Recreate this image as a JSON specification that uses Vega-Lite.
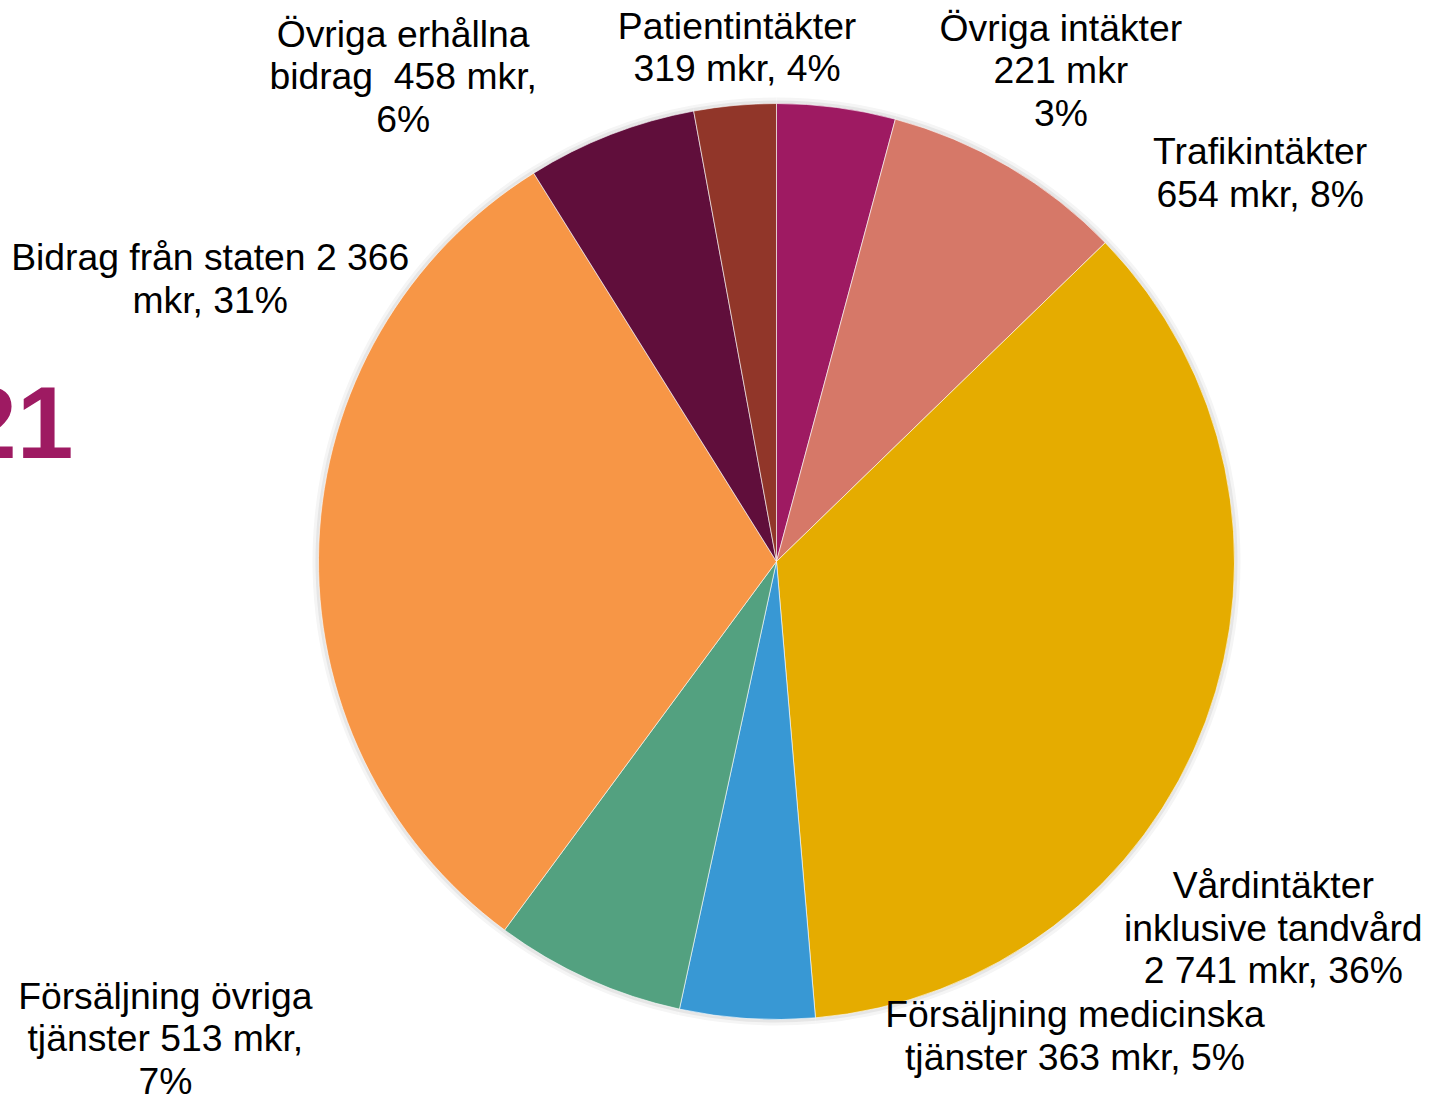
{
  "$schema": "https://vega.github.io/schema/vega-lite/v6.json",
  "width": 1305,
  "height": 1071,
  "padding": {"left": 124, "top": 26, "right": 0, "bottom": 0},
  "autosize": {"type": "none"},
  "background": "#ffffff",
  "config": {"view": {"stroke": null}},
  "title": {
    "text": "21",
    "anchor": "start",
    "frame": "group",
    "orient": "top",
    "baseline": "alphabetic",
    "offset": 0,
    "dx": -164,
    "dy": 551,
    "fontSize": 102,
    "fontWeight": "bold",
    "color": "#9E1A62",
    "font": "Liberation Sans"
  },
  "data": {
    "values": [
      {"nr": 1, "kategori": "Patientintäkter", "mkr": 319, "etikett": ["Patientintäkter", "319 mkr, 4%"]},
      {"nr": 2, "kategori": "Trafikintäkter", "mkr": 654, "etikett": ["Trafikintäkter", "654 mkr, 8%"]},
      {"nr": 3, "kategori": "Vårdintäkter inklusive tandvård", "mkr": 2741, "etikett": ["Vårdintäkter", "inklusive tandvård", "2 741 mkr, 36%"]},
      {"nr": 4, "kategori": "Försäljning medicinska tjänster", "mkr": 363, "etikett": ["Försäljning medicinska", "tjänster 363 mkr, 5%"]},
      {"nr": 5, "kategori": "Försäljning övriga tjänster", "mkr": 513, "etikett": ["Försäljning övriga", "tjänster 513 mkr,", "7%"]},
      {"nr": 6, "kategori": "Bidrag från staten", "mkr": 2366, "etikett": ["Bidrag från staten 2 366", "mkr, 31%"]},
      {"nr": 7, "kategori": "Övriga erhållna bidrag", "mkr": 458, "etikett": ["Övriga erhållna", "bidrag\u00a0 458 mkr,", "6%"]},
      {"nr": 8, "kategori": "Övriga intäkter", "mkr": 221, "etikett": ["Övriga intäkter", "221 mkr", "3%"]}
    ]
  },
  "encoding": {
    "theta": {"field": "mkr", "type": "quantitative", "stack": true},
    "order": {"field": "nr", "type": "quantitative"}
  },
  "layer": [
    {
      "mark": {"type": "arc", "outerRadius": 464, "fill": "#f5f5f5", "strokeWidth": 0}
    },
    {
      "mark": {"type": "arc", "outerRadius": 461, "fill": "#e6e6e6", "strokeWidth": 0}
    },
    {
      "mark": {"type": "arc", "outerRadius": 458, "stroke": "#ffffff", "strokeWidth": 1, "strokeOpacity": 0.6},
      "encoding": {
        "color": {
          "field": "kategori",
          "type": "nominal",
          "legend": null,
          "scale": {
            "domain": ["Patientintäkter", "Trafikintäkter", "Vårdintäkter inklusive tandvård", "Försäljning medicinska tjänster", "Försäljning övriga tjänster", "Bidrag från staten", "Övriga erhållna bidrag", "Övriga intäkter"],
            "range": ["#9E1A62", "#D67868", "#E5AC00", "#3898D4", "#53A180", "#F79646", "#600E3B", "#913629"]
          }
        }
      }
    },
    {
      "mark": {
        "type": "text",
        "font": "Liberation Sans",
        "fontSize": 37.3,
        "lineHeight": 42.5,
        "align": "center",
        "baseline": "middle",
        "fill": "#000000",
        "radius": {"expr": "datum.nr === 1 ? 535 : datum.nr === 2 ? 633 : datum.nr === 3 ? 594 : datum.nr === 4 ? 544 : datum.nr === 5 ? 751 : datum.nr === 6 ? 642 : datum.nr === 7 ? 645 : 603"},
        "thetaOffset": {"expr": "datum.nr === 1 ? -0.205 : datum.nr === 2 ? 0.338 : datum.nr === 3 ? 0.2225 : datum.nr === 4 ? -0.645 : datum.nr === 5 ? 0.526 : datum.nr === 6 ? 0.452 : datum.nr === 7 ? -0.247 : 0.582"}
      },
      "encoding": {
        "text": {"field": "etikett"}
      }
    }
  ]
}
